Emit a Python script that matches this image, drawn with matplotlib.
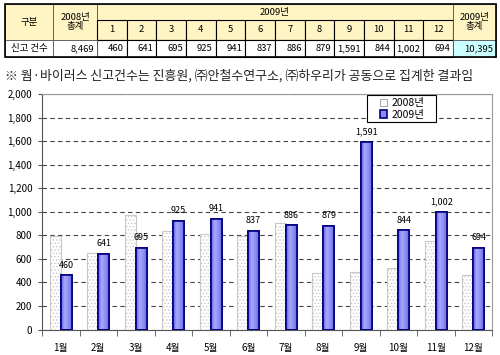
import matplotlib
matplotlib.use('Agg')
import matplotlib.pyplot as plt
from matplotlib.patches import Rectangle, Patch
from matplotlib.colors import LinearSegmentedColormap
import numpy as np

plt.rcParams['font.family'] = ['Noto Sans CJK KR', 'DejaVu Sans']
plt.rcParams['hatch.linewidth'] = 0.6

months = ['1월', '2월', '3월', '4월', '5월', '6월', '7월', '8월', '9월', '10월', '11월', '12월']
month_nums = ['1', '2', '3', '4', '5', '6', '7', '8', '9', '10', '11', '12']
y2008 = [792, 650, 972, 838, 810, 798, 902, 476, 487, 520, 748, 460]
y2009 = [460, 641, 695, 925, 941, 837, 886, 879, 1591, 844, 1002, 694]
total_2008 = 8469
total_2009 = 10395
row_label = '신고 건수'
note = '※ 웜·바이러스 신고건수는 진흥원, ㈜안철수연구소, ㈜하우리가 공동으로 집계한 결과임'

W, H = 500, 355
fig = plt.figure(figsize=(W / 100, H / 100), dpi=100)

# pixel-space layer for the table and the note
bg = fig.add_axes([0, 0, 1, 1])
bg.set_xlim(0, W)
bg.set_ylim(H, 0)
bg.axis('off')

yellow = '#fff4c4'
cyan = '#ccffff'
x0, x1, xm0, xm1, xend = 5, 53, 97, 453, 496
y0, ya, yb, yc = 4, 20, 40, 57
mw = (xm1 - xm0) / 12

def cell(xa, xb, ya_, yb_, fc, lw=0.6, ec='#555555'):
    bg.add_patch(Rectangle((xa, ya_), xb - xa, yb_ - ya_, fc=fc, ec=ec, lw=lw))

cell(x0, x1, y0, yb, yellow)
cell(x1, xm0, y0, yb, yellow)
cell(xm0, xm1, y0, ya, yellow)
for i in range(12):
    cell(xm0 + i * mw, xm0 + (i + 1) * mw, ya, yb, yellow, lw=0.8, ec='black')
    cell(xm0 + i * mw, xm0 + (i + 1) * mw, yb, yc, 'white', lw=0.8, ec='black')
cell(xm1, xend, y0, yb, yellow)
cell(x0, x1, yb, yc, 'white')
cell(x1, xm0, yb, yc, 'white')
cell(xm1, xend, yb, yc, cyan)
bg.add_patch(Rectangle((x0, y0), xend - x0, yc - y0, fc='none', ec='black', lw=1.2))

fs = 6.8
bg.text((x0 + x1) / 2, (y0 + yb) / 2, '구분', ha='center', va='center', fontsize=fs)
bg.text((x1 + xm0) / 2, (y0 + yb) / 2, '2008년\n총계', ha='center', va='center', fontsize=fs, linespacing=1.1)
bg.text((xm0 + xm1) / 2, (y0 + ya) / 2, '2009년', ha='center', va='center', fontsize=fs)
bg.text((xm1 + xend) / 2, (y0 + yb) / 2, '2009년\n총계', ha='center', va='center', fontsize=fs, linespacing=1.1)
bg.text((x0 + x1) / 2, (yb + yc) / 2, row_label, ha='center', va='center', fontsize=fs)
bg.text(xm0 - 3, (yb + yc) / 2, f'{total_2008:,}', ha='right', va='center', fontsize=fs)
bg.text(xend - 3, (yb + yc) / 2, f'{total_2009:,}', ha='right', va='center', fontsize=fs)
for i in range(12):
    bg.text(xm0 + (i + 0.5) * mw, (ya + yb) / 2, month_nums[i], ha='center', va='center', fontsize=fs)
    bg.text(xm0 + (i + 1) * mw - 3, (yb + yc) / 2, f'{y2009[i]:,}', ha='right', va='center', fontsize=fs)

bg.text(5, 76, note, ha='left', va='center', fontsize=9.3, color='#222222')

# chart
ax = fig.add_axes([42 / W, (H - 329.5) / H, (492 - 42) / W, (329.5 - 94) / H])
x = np.arange(len(months))
bw = 0.29
b08 = ax.bar(x - bw / 2, y2008, bw, facecolor='white', edgecolor='#c8c8c8', hatch='.....', lw=0.8,
             label='2008년', zorder=3)
b09 = ax.bar(x + bw / 2, y2009, bw, facecolor='#8a8af2', edgecolor='#000080', lw=1.2,
             label='2009년', zorder=3)

cmap = LinearSegmentedColormap.from_list('bar', ['#5c5ce0', '#a8a8ff', '#9090f4', '#6a6ae4'])
grad = np.linspace(0, 1, 64).reshape(1, -1)
for r in b09:
    im = ax.imshow(grad, extent=[r.get_x(), r.get_x() + r.get_width(), 0, r.get_height()],
                   aspect='auto', cmap=cmap, zorder=3.5)
    im.set_clip_path(r)
    ax.add_patch(Rectangle((r.get_x(), 0), r.get_width(), r.get_height(), fc='none',
                           ec='#000080', lw=1.2, zorder=4))

for xi, v in zip(x, y2009):
    ax.annotate(f'{v:,}', (xi + bw / 2, v), xytext=(0, 4), textcoords='offset points',
                ha='center', va='bottom', fontsize=6.5)

ax.set_xlim(-0.5, 11.5)
ax.set_ylim(0, 2000)
ax.set_yticks(range(0, 2001, 200))
ax.set_yticklabels([f'{v:,}' for v in range(0, 2001, 200)], fontsize=7)
ax.set_xticks(x)
ax.set_xticklabels(months, fontsize=7)
ax.set_xticks(np.arange(-0.5, 12, 1), minor=True)
ax.tick_params(axis='x', which='major', length=0, pad=10)
ax.tick_params(axis='x', which='minor', length=4, color='#555555')
ax.tick_params(axis='y', length=3, color='#555555', pad=4)
ax.grid(axis='y', color='#444444', ls=(0, (4, 3)), lw=0.8, zorder=1)
for s in ['top', 'right']:
    ax.spines[s].set_color('#999999')
for s in ['left', 'bottom']:
    ax.spines[s].set_color('#555555')

# legend: box drawn separately to match the wide padding of the original
ax.add_patch(Rectangle((367, 95), 69, 27, transform=bg.transData, fc='white', ec='black',
                       lw=0.8, clip_on=False, zorder=9))
handles = [Patch(facecolor='white', edgecolor='#aaaaaa', lw=0.8),
           Patch(facecolor='#8a8af2', edgecolor='#000080', lw=1.2)]
leg = ax.legend(handles, ['2008년', '2009년'], loc='upper left',
                bbox_to_anchor=(378 / W, 1 - 96 / H), bbox_transform=fig.transFigure,
                fontsize=7.5, frameon=False,
                handlelength=0.7, handleheight=0.7, handletextpad=0.4,
                borderpad=0.2, labelspacing=0.15, borderaxespad=0)
leg.set_zorder(10)

fig.savefig('out.png', dpi=100)
